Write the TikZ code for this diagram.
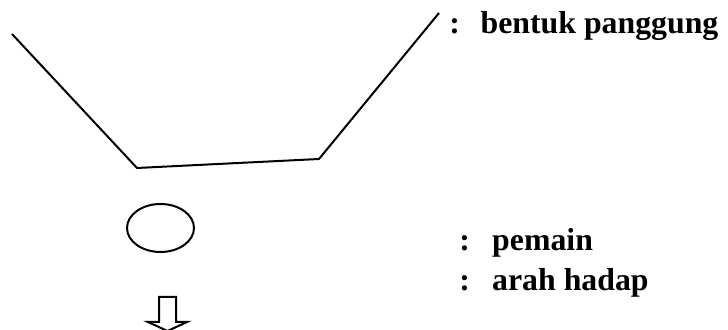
\documentclass[tikz,border=0pt]{standalone}
\usepackage{fontspec}
\setmainfont{Liberation Serif}
\usetikzlibrary{shapes.geometric}

\begin{document}
\begin{tikzpicture}[x=0.5pt, y=-0.5pt,
    outline/.style={line width=1pt, color=black, line join=miter},
    player/.style={ellipse, draw, line width=1pt, minimum width=33.5pt, minimum height=24pt, inner sep=0pt},
    legend/.style={anchor=base west, inner sep=0pt, font=\bfseries\fontsize{15.9}{19}\selectfont}
]
    \useasboundingbox (0,0) rectangle (728,330);

    % Stage outline
    \coordinate (s1) at (12,34);
    \coordinate (s2) at (137,168);
    \coordinate (s3) at (319,159);
    \coordinate (s4) at (439,13);
    \draw[outline] (s1) -- (s2) -- (s3) -- (s4);

    % Symbols
    \node[player] (pemain) at (160.5,228) {};
    \coordinate (facing) at (167.5,297);
    \draw[outline] (facing) ++(-8.5,0) -- ++(0,25) -- ++(-11,0) -- ++(19.5,9)
        -- ++(19.5,-9) -- ++(-11,0) -- ++(0,-25) -- cycle;

    % Legend
    \node[legend] (lstage) at (449,34) {:\hspace{0.65em}bentuk panggung};
    \node[legend] (lplayer) at (459,251) {:\hspace{0.7em}pemain};
    \node[legend] (lfacing) at (459,291) {:\hspace{0.7em}arah hadap};
\end{tikzpicture}
\end{document}
